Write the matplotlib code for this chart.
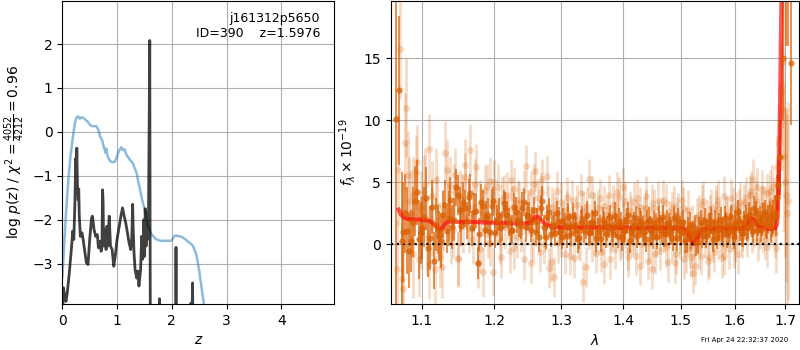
import matplotlib
matplotlib.use("Agg")
import matplotlib.pyplot as plt

# ---------------- left panel data: redshift fit ----------------
z_pz = [0.00, 0.02, 0.04, 0.067, 0.09, 0.128, 0.17, 0.19, 0.21, 0.23, 0.245, 0.255, 0.265, 0.275,
        0.29, 0.30, 0.31, 0.33, 0.36, 0.38, 0.41, 0.44, 0.47, 0.50, 0.535, 0.55, 0.58, 0.61, 0.64,
        0.66, 0.69, 0.71, 0.725, 0.735, 0.745, 0.754, 0.77, 0.80, 0.815, 0.83, 0.857, 0.88, 0.91,
        0.94, 0.967, 1.0, 1.04, 1.07, 1.10, 1.13, 1.16, 1.19, 1.22, 1.25, 1.27, 1.285, 1.295, 1.31,
        1.33, 1.36, 1.38, 1.40, 1.43, 1.45, 1.465, 1.48, 1.49, 1.505, 1.515, 1.53, 1.545, 1.555,
        1.565, 1.575, 1.5976, 1.605, 1.612, 1.76, 1.775, 1.79, 2.06, 2.077, 2.095, 2.33, 2.35,
        2.37, 2.38, 2.395, 5.0]
logpz = [-4.5, -3.55, -3.7, -3.86, -3.67, -3.21, -2.6, -2.26, -2.45, -1.62, -0.6, -1.0, -0.37, -1.17,
         -1.55, -1.3, -1.92, -2.38, -2.3, -2.45, -2.72, -2.98, -3.02, -2.45, -1.96, -1.92, -2.23, -2.38,
         -2.34, -2.64, -2.49, -2.72, -2.5, -1.32, -1.6, -2.6, -2.23, -2.68, -2.15, -2.6, -1.92, -2.6,
         -2.68, -3.06, -2.83, -2.45, -2.15, -1.92, -1.73, -1.92, -2.08, -2.3, -2.53, -2.68, -2.4, -1.65,
         -2.2, -2.76, -3.14, -3.33, -3.17, -3.51, -3.14, -2.38, -2.9, -2.83, -2.0, -2.83, -1.75, -2.6,
         -1.85, -2.45, -2.0, -1.9, 2.08, -3.0, -6.0, -6.0, -3.8, -6.0, -6.0, -2.63, -6.0, -6.0, -3.9,
         -4.2, -3.44, -6.0, -6.0]

z_chi = [0.0, 0.02, 0.067, 0.11, 0.15, 0.20, 0.23, 0.26, 0.29, 0.32, 0.35, 0.38, 0.42, 0.47, 0.52,
         0.56, 0.62, 0.66, 0.69, 0.73, 0.76, 0.79, 0.805, 0.82, 0.85, 0.88, 0.92, 0.96, 0.99, 1.02,
         1.05, 1.08, 1.11, 1.14, 1.17, 1.20, 1.23, 1.26, 1.29, 1.33, 1.36, 1.39, 1.42, 1.45, 1.48,
         1.51, 1.54, 1.57, 1.60, 1.63, 1.66, 1.69, 1.74, 1.80, 1.90, 1.99, 2.02, 2.05, 2.077, 2.10,
         2.15, 2.18, 2.24, 2.30, 2.35, 2.39, 2.45, 2.50, 2.515, 2.545, 2.575, 2.62, 2.70]
chi_curve = [-3.3, -2.9, -1.85, -1.09, -0.55, -0.05, 0.2, 0.33, 0.35, 0.3, 0.33, 0.32, 0.28, 0.22, 0.14,
             0.13, 0.13, 0.05, -0.1, -0.2, -0.35, -0.48, -0.38, -0.52, -0.62, -0.67, -0.69, -0.68, -0.6,
             -0.48, -0.4, -0.35, -0.42, -0.4, -0.52, -0.57, -0.63, -0.67, -0.72, -0.85, -0.95, -1.15,
             -1.31, -1.5, -1.65, -1.79, -2.0, -2.15, -2.26, -2.33, -2.37, -2.42, -2.46, -2.48, -2.48,
             -2.48, -2.43, -2.37, -2.36, -2.37, -2.38, -2.39, -2.44, -2.5, -2.55, -2.6, -2.8, -3.15,
             -3.29, -3.55, -3.82, -4.3, -5.0]

# ---------------- right panel data: spectrum ----------------
# binned spectrum, first beam
wave_bin = [1.066, 1.071, 1.074, 1.076, 1.081, 1.086, 1.091, 1.096, 1.101, 1.106, 1.111, 1.116, 1.121,
            1.126, 1.131, 1.136, 1.141, 1.146, 1.151, 1.156, 1.161, 1.166, 1.171, 1.176, 1.181,
            1.186, 1.191, 1.196, 1.201, 1.206, 1.211, 1.216, 1.221, 1.226, 1.231, 1.236, 1.241,
            1.246, 1.251, 1.256, 1.261, 1.266, 1.271, 1.276, 1.281, 1.286, 1.291,
            1.296, 1.301, 1.306, 1.311, 1.316, 1.321, 1.326, 1.331, 1.336, 1.341, 1.346, 1.351,
            1.356, 1.361, 1.366, 1.371, 1.376, 1.381, 1.386, 1.391, 1.396, 1.401, 1.406, 1.411,
            1.416, 1.421, 1.426, 1.431, 1.436, 1.441, 1.446, 1.451, 1.456, 1.461, 1.466, 1.471,
            1.476, 1.481, 1.486, 1.491, 1.496, 1.501,
            1.506, 1.511, 1.516, 1.521, 1.526, 1.531, 1.536, 1.541, 1.546, 1.551, 1.556, 1.561,
            1.566, 1.571, 1.576, 1.581, 1.586, 1.591, 1.596, 1.601, 1.606, 1.611, 1.616, 1.621,
            1.626, 1.631, 1.636, 1.641, 1.646, 1.651, 1.656, 1.661, 1.666, 1.671, 1.676,
            1.681, 1.686, 1.690, 1.696, 1.701, 1.706, 1.712]
flux_bin = [10.1, 12.4, 0.3, 1.0, 1.1, 0.3, 3.5, 0.4, 1.3, 3.7, 0.5, -1.3, 1.2,
            0.3, 3.2, 2.1, 1.4, 4.6, 2.8, 3.3, 1.9, 4.1, 2.6, -1.5, 3.4,
            1.2, 2.4, 3.1, 0.9, 2.4, 1.5, 2.9, 1.8, 1.2, 2.6, 1.7, 2.9,
            1.4, 2.3, 1.8, 1.0, 0.6, 3.5, 0.6, 2.6, 1.4, 0.9,
            1.9, 0.6, 1.5, 2.2, 0.9, 1.6, 0.4, 1.8, 1.1, 2.4, 1.0, 1.7,
            0.5, 1.4, 2.0, 0.8, 1.5, 1.2, 2.3, 0.7, 1.6, 1.1, 1.9, 0.3,
            1.3, 2.1, 1.0, 1.6, 0.9, 1.8, 1.2, 0.6, 1.5, 2.0, 1.1, 0.8,
            1.7, 1.3, 0.5, 1.4, 1.9, 0.9,
            1.0, 0.4, 1.6, 0.9, 1.3, 0.2, 1.8, 1.1, 0.7, 1.5, 1.9, 1.0,
            0.6, 1.4, 1.2, 2.1, 0.8, 1.5, 1.0, 1.7, 2.6, 1.3, 0.9, 2.2,
            1.4, 1.9, 1.1, 2.5, 1.8, 1.2, 2.3, 1.6, 2.0, 1.4, 2.2,
            2.3, 4.8, 7.0, 15.0, 22.0, 21.0, 14.6]
err_bin = [16.0, 6.0, 5.5, 4.0, 3.5, 2.5, 2.8, 3.2, 2.5, 2.5, 2.6, 2.3, 2.0,
           2.2, 2.0, 2.2, 1.8, 1.5, 1.8, 1.7, 1.5, 1.6, 1.5, 1.3, 1.5,
           1.4, 1.3, 1.4, 1.2, 1.3, 1.2, 1.3, 1.1, 1.2, 1.2, 1.1, 1.3,
           1.2, 1.1, 1.2, 1.1, 1.2, 1.2, 1.0, 1.1, 1.0, 1.0,
           1.1, 1.0, 1.0, 1.1, 1.0, 1.0, 1.1, 1.0, 1.0, 1.1, 1.0, 1.0,
           1.1, 1.0, 1.0, 1.1, 1.0, 1.0, 1.1, 1.0, 1.0, 1.1, 1.0, 1.0,
           1.1, 1.0, 1.0, 1.1, 1.0, 1.0, 1.1, 1.0, 1.0, 1.1, 1.0, 1.0,
           1.1, 1.0, 1.0, 1.1, 1.0, 1.0,
           1.0, 1.1, 1.0, 1.0, 1.1, 1.0, 1.0, 1.1, 1.0, 1.0, 1.1, 1.0,
           1.0, 1.1, 1.0, 1.0, 1.1, 1.0, 1.0, 1.1, 1.0, 1.0, 1.1, 1.0,
           1.0, 1.1, 1.0, 1.0, 1.1, 1.0, 1.0, 1.1, 1.2, 1.3, 1.4,
           1.6, 2.0, 3.0, 5.0, 6.0, 5.0, 5.0]

# binned spectrum, second beam
wave_bin2 = [1.0785, 1.0835, 1.0885, 1.0935, 1.0985, 1.1035, 1.1085, 1.1135, 1.1185, 1.1235,
             1.1285, 1.1335, 1.1385, 1.1435, 1.1485, 1.1535, 1.1585, 1.1635, 1.1685, 1.1735,
             1.1785, 1.1835, 1.1885, 1.1935, 1.1985, 1.2035, 1.2085, 1.2135, 1.2185, 1.2235,
             1.2285, 1.2335, 1.2385, 1.2435, 1.2485, 1.2535, 1.2585, 1.2635, 1.2685, 1.2735,
             1.2785, 1.2835, 1.2885, 1.2935, 1.2985, 1.3035, 1.3085, 1.3135, 1.3185, 1.3235,
             1.3285, 1.3335, 1.3385, 1.3435, 1.3485, 1.3535, 1.3585, 1.3635, 1.3685, 1.3735,
             1.3785, 1.3835, 1.3885, 1.3935, 1.3985, 1.4035, 1.4085, 1.4135, 1.4185, 1.4235,
             1.4285, 1.4335, 1.4385, 1.4435, 1.4485, 1.4535, 1.4585, 1.4635, 1.4685, 1.4735,
             1.4785, 1.4835, 1.4885, 1.4935, 1.4985, 1.5035, 1.5085, 1.5135, 1.5185, 1.5235,
             1.5285, 1.5335, 1.5385, 1.5435, 1.5485, 1.5535, 1.5585, 1.5635, 1.5685, 1.5735,
             1.5785, 1.5835, 1.5885, 1.5935, 1.5985, 1.6035, 1.6085, 1.6135, 1.6185, 1.6235,
             1.6285, 1.6335, 1.6385, 1.6435, 1.6485, 1.6535, 1.6585, 1.6635, 1.6685, 1.6735,
             1.6785, 1.6835]
flux_bin2 = [2.5, -0.5, 1.8, 4.2, 0.9, 2.2, -0.3, 3.0, 1.6, 0.7,
             2.4, 1.1, 3.6, 2.0, 4.0, 1.5, 2.9, 3.8, 1.3, 2.7,
             0.8, 3.1, 2.2, 1.0, 3.5, 2.0, 1.3, 3.3, 2.4, 1.1,
             3.0, 2.0, 1.5, 3.4, 2.3, 1.2, 2.8, 1.9, 2.9, 1.4,
             2.2, 0.8, 1.6, 2.5, 1.0, 1.9, 0.7, 1.5, 2.3, 1.2,
             0.6, 2.1, 1.4, 0.9, 1.8, 2.5, 1.1, 0.4, 1.7, 1.3,
             2.2, 0.8, 1.5, 1.9, 0.5, 1.2, 2.4, 1.0, 1.6, 0.7,
             1.9, 1.3, 0.4, 2.0, 1.1, 1.7, 0.6, 1.4, 2.2, 0.9,
             1.5, 1.0, 2.1, 0.5, 1.3, 1.8, 0.3, 1.2, 0.6, 0.9,
             0.1, 1.2, 0.7, 1.9, 1.0, 1.5, 0.4, 1.8, 1.2, 2.0,
             0.8, 1.6, 1.1, 2.2, 0.6, 1.4, 1.9, 0.9, 1.7, 1.3,
             2.4, 1.6, 2.9, 1.2, 2.1, 1.7, 2.6, 1.5, 2.3, 1.9,
             2.6, 3.8]
err_bin2 = [3.2, 3.0, 2.8, 2.6, 2.5, 2.4, 2.3, 2.2, 2.1, 2.0,
            1.9, 1.8, 1.8, 1.7, 1.6, 1.6, 1.5, 1.5, 1.4, 1.4,
            1.3, 1.3, 1.3, 1.2, 1.2, 1.2, 1.2, 1.1, 1.1, 1.1,
            1.1, 1.1, 1.1, 1.1, 1.1, 1.0, 1.0, 1.0, 1.0, 1.0,
            1.0, 1.0, 1.0, 1.0, 1.0, 1.0, 1.0, 1.0, 1.0, 1.0,
            1.0, 1.0, 1.0, 1.0, 1.0, 1.0, 1.0, 1.0, 1.0, 1.0,
            1.0, 1.0, 1.0, 1.0, 1.0, 1.0, 1.0, 1.0, 1.0, 1.0,
            1.0, 1.0, 1.0, 1.0, 1.0, 1.0, 1.0, 1.0, 1.0, 1.0,
            1.0, 1.0, 1.0, 1.0, 1.0, 1.0, 1.0, 1.0, 1.0, 1.0,
            1.0, 1.0, 1.0, 1.0, 1.0, 1.0, 1.0, 1.0, 1.0, 1.0,
            1.0, 1.0, 1.0, 1.0, 1.0, 1.0, 1.0, 1.0, 1.0, 1.0,
            1.0, 1.0, 1.0, 1.0, 1.0, 1.0, 1.0, 1.1, 1.2, 1.3,
            1.4, 1.8]

# full-resolution spectrum, first beam
wave_full = [1.0680, 1.0715, 1.0750, 1.0785, 1.0820, 1.0855, 1.0890, 1.0925, 1.0960, 1.0995,
             1.1030, 1.1065, 1.1100, 1.1135, 1.1170, 1.1205, 1.1240, 1.1275, 1.1310, 1.1345,
             1.1380, 1.1415, 1.1450, 1.1485, 1.1520, 1.1555, 1.1590, 1.1625, 1.1660, 1.1695,
             1.1730, 1.1765, 1.1800, 1.1835, 1.1870, 1.1905, 1.1940, 1.1975, 1.2010, 1.2045,
             1.2080, 1.2115, 1.2150, 1.2185, 1.2220, 1.2255, 1.2290, 1.2325, 1.2360, 1.2395,
             1.2430, 1.2465, 1.2500, 1.2535, 1.2570, 1.2605, 1.2640, 1.2675, 1.2710, 1.2745,
             1.2780, 1.2815, 1.2850, 1.2885, 1.2920, 1.2955, 1.2990, 1.3025, 1.3060, 1.3095,
             1.3130, 1.3165, 1.3200, 1.3235, 1.3270, 1.3305, 1.3340, 1.3375, 1.3410, 1.3445,
             1.3480, 1.3515, 1.3550, 1.3585, 1.3620, 1.3655, 1.3690, 1.3725, 1.3760, 1.3795,
             1.3830, 1.3865, 1.3900, 1.3935, 1.3970, 1.4005, 1.4040, 1.4075, 1.4110, 1.4145,
             1.4180, 1.4215, 1.4250, 1.4285, 1.4320, 1.4355, 1.4390, 1.4425, 1.4460, 1.4495,
             1.4530, 1.4565, 1.4600, 1.4635, 1.4670, 1.4705, 1.4740, 1.4775, 1.4810, 1.4845,
             1.4880, 1.4915, 1.4950, 1.4985, 1.5020, 1.5055, 1.5090, 1.5125, 1.5160, 1.5195,
             1.5230, 1.5265, 1.5300, 1.5335, 1.5370, 1.5405, 1.5440, 1.5475, 1.5510, 1.5545,
             1.5580, 1.5615, 1.5650, 1.5685, 1.5720, 1.5755, 1.5790, 1.5825, 1.5860, 1.5895,
             1.5930, 1.5965, 1.6000, 1.6035, 1.6070, 1.6105, 1.6140, 1.6175, 1.6210, 1.6245,
             1.6280, 1.6315, 1.6350, 1.6385, 1.6420, 1.6455, 1.6490, 1.6525, 1.6560, 1.6595,
             1.6630, 1.6665, 1.6700, 1.6735, 1.6770, 1.6805, 1.6840, 1.6875, 1.6910, 1.6945,
             1.6980, 1.7015, 1.7050]
flux_full = [-2.0, 15.7, -3.6, 8.2, 5.6, 2.5, 4.0, 5.8, -1.2, 2.9,
             4.2, 0.5, 7.7, 1.8, -2.0, 3.1, 0.9, -1.8, 7.4, 2.6,
             4.8, 1.2, 5.6, -1.1, 3.8, 1.5, 6.4, 2.2, 7.6, 0.4,
             4.9, -1.5, 3.2, -2.2, 4.4, 0.8, 5.1, -2.2, 2.7, 4.6,
             0.2, 3.6, 1.4, 4.0, -0.5, 2.9, 4.5, 0.6, 3.3, 1.9,
             -1.2, 6.3, 2.4, 4.2, 0.3, 5.9, 3.7, -0.6, 5.3, 1.1,
             5.5, -1.9, 3.0, -2.6, 2.2, 0.1, 3.4, 1.6, -0.8, 2.8,
             0.9, 3.6, -1.1, 2.3, 0.4, 4.1, -3.0, 1.7, 3.0, 5.3,
             0.2, 2.6, -0.7, 1.9, 3.7, 0.8, -1.6, 2.4, 4.0, 1.0,
             3.2, -0.4, 2.0, 3.8, 0.5, 4.6, 1.3, -1.0, 2.7, 0.6,
             3.4, -0.9, 1.8, 3.0, 0.0, 2.2, 3.9, -1.3, 1.5, -2.0,
             2.9, 0.7, 3.5, -0.5, 2.1, 1.0, 3.3, -1.4, 1.9, 0.3,
             3.1, -0.8, 2.5, 0.9, 3.6, -1.2, 1.4, 2.8, -0.3, 1.6,
             -2.3, -1.7, 0.8, 2.4, -0.9, 3.5, 0.5, 2.0, -1.0, 2.9,
             1.2, -0.6, 3.2, 0.4, 1.8, -1.1, 3.9, 0.9, 2.3, -0.4,
             1.5, 3.0, 0.2, 2.6, -0.8, 3.4, 1.1, 2.1, 3.8, 0.6,
             2.7, 4.3, 5.3, 1.4, 3.5, 0.3, 2.5, 4.4, 1.0, 3.1,
             -0.2, 2.8, 4.3, 1.6, 3.6, -0.3, 4.9, 8.2, 12.3, 14.7,
             7.0, 4.0, 3.5]
err_full = [4.0, 4.0, 4.0, 4.0, 3.5, 3.5, 3.0, 3.0, 3.0, 3.0,
            3.0, 3.0, 2.8, 2.8, 2.8, 2.5, 2.5, 2.5, 2.5, 2.3,
            2.3, 2.3, 2.2, 2.2, 2.2, 2.2, 2.1, 2.1, 2.1, 2.0,
            2.0, 2.0, 2.0, 2.0, 2.0, 1.9, 1.9, 1.9, 1.9, 1.9,
            1.8, 1.8, 1.8, 1.8, 1.8, 1.8, 1.7, 1.7, 1.7, 1.7,
            1.7, 1.7, 1.7, 1.7, 1.6, 1.6, 1.6, 1.6, 1.6, 1.6,
            1.6, 1.6, 1.6, 1.6, 1.6, 1.6, 1.6, 1.6, 1.6, 1.6,
            1.6, 1.6, 1.6, 1.6, 1.6, 1.6, 1.6, 1.6, 1.6, 1.6,
            1.6, 1.6, 1.6, 1.6, 1.6, 1.6, 1.6, 1.6, 1.6, 1.6,
            1.6, 1.6, 1.6, 1.6, 1.6, 1.6, 1.6, 1.6, 1.6, 1.6,
            1.6, 1.6, 1.6, 1.6, 1.6, 1.6, 1.6, 1.6, 1.6, 1.6,
            1.6, 1.6, 1.6, 1.6, 1.6, 1.6, 1.6, 1.6, 1.6, 1.6,
            1.6, 1.6, 1.6, 1.6, 1.6, 1.6, 1.6, 1.6, 1.6, 1.6,
            1.6, 1.6, 1.6, 1.6, 1.6, 1.6, 1.6, 1.6, 1.6, 1.6,
            1.6, 1.6, 1.6, 1.6, 1.6, 1.6, 1.6, 1.6, 1.6, 1.6,
            1.6, 1.6, 1.6, 1.6, 1.6, 1.6, 1.6, 1.6, 1.6, 1.6,
            1.6, 1.6, 1.6, 1.6, 1.6, 1.6, 1.6, 1.6, 1.6, 1.6,
            1.6, 1.6, 1.7, 1.7, 1.8, 2.0, 2.2, 3.0, 4.0, 5.0,
            6.0, 7.0, 8.0]

# full-resolution spectrum, second beam
wave_full2 = [1.069, 1.074, 1.079, 1.084, 1.089, 1.094, 1.099, 1.104, 1.109, 1.114,
              1.119, 1.124, 1.129, 1.134, 1.139, 1.144, 1.149, 1.154, 1.159, 1.164,
              1.169, 1.174, 1.179, 1.184, 1.189, 1.194, 1.199, 1.204, 1.209, 1.214,
              1.219, 1.224, 1.229, 1.234, 1.239, 1.244, 1.249, 1.254, 1.259, 1.264,
              1.269, 1.274, 1.279, 1.284, 1.289, 1.294, 1.299, 1.304, 1.309, 1.314,
              1.319, 1.324, 1.329, 1.334, 1.339, 1.344, 1.349, 1.354, 1.359, 1.364,
              1.369, 1.374, 1.379, 1.384, 1.389, 1.394, 1.399, 1.404, 1.409, 1.414,
              1.419, 1.424, 1.429, 1.434, 1.439, 1.444, 1.449, 1.454, 1.459, 1.464,
              1.469, 1.474, 1.479, 1.484, 1.489, 1.494, 1.499, 1.504, 1.509, 1.514,
              1.519, 1.524, 1.529, 1.534, 1.539, 1.544, 1.549, 1.554, 1.559, 1.564,
              1.569, 1.574, 1.579, 1.584, 1.589, 1.594, 1.599, 1.604, 1.609, 1.614,
              1.619, 1.624, 1.629, 1.634, 1.639, 1.644, 1.649, 1.654, 1.659, 1.664,
              1.669, 1.674, 1.679, 1.684, 1.689, 1.694, 1.699, 1.704]
flux_full2 = [6.0, -2.8, 11.0, 3.5, -0.8, 6.6, 1.0, 4.8, -1.6, 3.9,
              5.2, -0.9, 2.0, 6.0, 0.7, 4.3, -1.2, 3.6, 5.4, 1.3,
              3.0, 6.2, -0.4, 2.6, 4.7, 0.1, 5.0, 1.8, -1.0, 3.9,
              2.1, 5.2, -0.3, 3.6, 1.0, 4.4, 2.8, -1.5, 4.9, 1.6,
              4.2, 0.0, 3.1, -1.4, 2.5, 4.3, 0.6, 2.0, 3.8, -0.9,
              1.5, 3.2, 0.3, 2.7, -1.8, 1.2, 4.0, 0.7, 2.9, -0.6,
              3.1, 1.4, -1.2, 2.5, 4.2, 0.3, 1.8, 3.5, -0.5, 2.3,
              0.8, 3.7, -1.7, 1.6, 2.9, 0.1, 3.3, -0.8, 2.0, 1.1,
              3.6, -0.2, 1.4, 2.6, -1.5, 2.2, 0.4, 3.0, -0.7, 1.1,
              -1.0, 0.6, 2.1, -0.4, 3.2, 1.3, -1.3, 2.4, 0.2, 2.8,
              3.6, 0.7, -0.9, 2.2, 1.4, 3.7, -0.3, 1.9, 2.9, 0.5,
              3.3, 1.8, 4.0, 0.9, 2.6, 4.6, 1.2, 3.2, 0.4, 4.1,
              2.0, 4.6, 0.9, 6.2, 9.5, 11.0, 5.0, 2.5]
err_full2 = [4.5, 4.5, 4.0, 3.5, 3.5, 3.0, 3.0, 3.0, 2.8, 2.8,
             2.6, 2.5, 2.5, 2.4, 2.3, 2.2, 2.2, 2.1, 2.0, 2.0,
             2.0, 1.9, 1.9, 1.9, 1.8, 1.8, 1.8, 1.7, 1.7, 1.7,
             1.7, 1.7, 1.7, 1.6, 1.6, 1.6, 1.6, 1.6, 1.6, 1.6,
             1.6, 1.6, 1.6, 1.6, 1.6, 1.6, 1.6, 1.6, 1.6, 1.6,
             1.6, 1.6, 1.6, 1.6, 1.6, 1.6, 1.6, 1.6, 1.6, 1.6,
             1.6, 1.6, 1.6, 1.6, 1.6, 1.6, 1.6, 1.6, 1.6, 1.6,
             1.6, 1.6, 1.6, 1.6, 1.6, 1.6, 1.6, 1.6, 1.6, 1.6,
             1.6, 1.6, 1.6, 1.6, 1.6, 1.6, 1.6, 1.6, 1.6, 1.6,
             1.6, 1.6, 1.6, 1.6, 1.6, 1.6, 1.6, 1.6, 1.6, 1.6,
             1.6, 1.6, 1.6, 1.6, 1.6, 1.6, 1.6, 1.6, 1.6, 1.6,
             1.6, 1.6, 1.6, 1.6, 1.6, 1.6, 1.6, 1.6, 1.6, 1.6,
             1.7, 1.8, 2.0, 2.5, 3.5, 5.0, 6.0, 8.0]

# best-fit model
wave_model = [1.070, 1.073, 1.077, 1.082, 1.090, 1.100, 1.108, 1.114, 1.119, 1.122, 1.125, 1.128,
              1.131, 1.135, 1.140, 1.150, 1.170, 1.190, 1.210, 1.230, 1.245, 1.252, 1.257, 1.261,
              1.265, 1.270, 1.276, 1.283, 1.292, 1.310, 1.350, 1.400, 1.450, 1.490, 1.505, 1.511,
              1.515, 1.519, 1.523, 1.527, 1.531, 1.535, 1.540, 1.550, 1.580, 1.610, 1.620, 1.625,
              1.629, 1.632, 1.636, 1.641, 1.647, 1.655, 1.665, 1.675, 1.680, 1.683, 1.685, 1.687,
              1.689, 1.691, 1.693, 1.696]
flux_model = [2.8, 2.4, 2.15, 2.05, 2.0, 2.0, 1.95, 1.75, 1.45, 1.28, 1.22, 1.35,
              1.65, 1.85, 1.85, 1.8, 1.8, 1.76, 1.73, 1.7, 1.68, 1.75, 2.0, 2.25,
              2.2, 1.9, 1.6, 1.45, 1.38, 1.36, 1.36, 1.35, 1.33, 1.32, 1.28, 1.1,
              0.75, 0.35, 0.06, 0.2, 0.6, 1.0, 1.18, 1.27, 1.29, 1.29, 1.32, 1.6,
              1.95, 2.1, 2.0, 1.75, 1.5, 1.35, 1.26, 1.25, 1.32, 1.6, 2.6, 5.0,
              10.0, 16.0, 22.0, 30.0]

xticks_spec = [1.1, 1.2, 1.3, 1.4, 1.5, 1.6, 1.7]
xtick_labels_spec = ["1.1", "1.2", "1.3", "1.4", "1.5", "1.6", "1.7"]

# ---------------- figure ----------------
fig = plt.figure(figsize=(8, 3.5), dpi=100)
ax1 = fig.add_axes([0.0779, 0.1314, 0.34, 0.8657])
ax2 = fig.add_axes([0.4884, 0.1314, 0.5108, 0.8657])

ax1.plot(z_chi, chi_curve, color='#1f77b4', alpha=0.5, lw=1.8)
ax1.plot(z_pz, logpz, color='k', alpha=0.75, lw=2)
ax1.set_xlim(0, 4.97)
ax1.set_ylim(-3.92, 2.98)
ax1.set_xticks([0, 1, 2, 3, 4])
ax1.set_yticks([-3, -2, -1, 0, 1, 2])
ax1.grid(True)
ax1.set_xlabel(r'$z$')
ax1.set_ylabel(r'log $p(z)$ / $\chi^2=\frac{4052}{4212}=0.96$')
ax1.text(0.947, 0.965, 'j161312p5650\nID=390    z=1.5976', transform=ax1.transAxes,
         ha='right', va='top', fontsize=9)

orange = '#d95f02'
for wv, fl, er in [(wave_full, flux_full, err_full), (wave_full2, flux_full2, err_full2)]:
    ax2.errorbar(wv, fl, er, marker='o', ms=5, color=orange, alpha=0.22,
                 linestyle='none', elinewidth=2, capsize=0, mew=0)
for wv, fl, er in [(wave_bin, flux_bin, err_bin), (wave_bin2, flux_bin2, err_bin2)]:
    ax2.errorbar(wv, fl, er, marker='o', ms=4.5, color=orange, alpha=0.75,
                 linestyle='none', elinewidth=1.3, capsize=0, mew=0)
ax2.plot(wave_model, flux_model, color='r', alpha=0.65, lw=3)
ax2.axhline(0, color='k', linestyle=':', lw=1.6)

ax2.set_xscale('log')
ax2.set_xlim(1.0599, 1.729)
ax2.set_ylim(-4.8, 19.6)
ax2.set_xticks(xticks_spec)
ax2.set_xticklabels(xtick_labels_spec)
ax2.xaxis.set_minor_locator(matplotlib.ticker.NullLocator())
ax2.set_yticks([0, 5, 10, 15])
ax2.grid(True)
ax2.set_xlabel(r'$\lambda$')
ax2.set_ylabel(r'$f_\lambda\times10^{-19}$')

fig.text(0.985, 0.028, 'Fri Apr 24 22:32:37 2020', ha='right', va='center', fontsize=5)

fig.savefig('out.png', dpi=100)
